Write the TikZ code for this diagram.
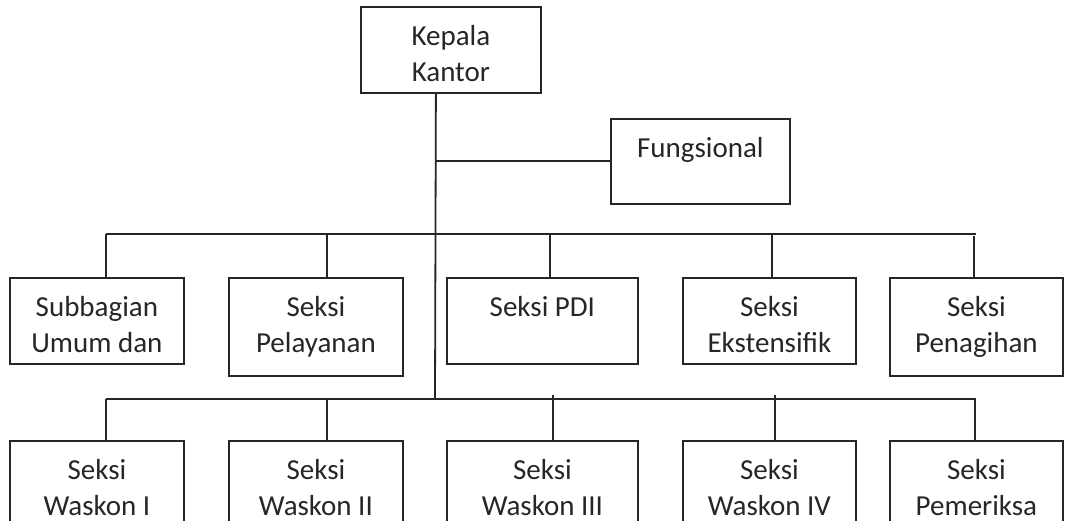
\documentclass[tikz,border=0pt]{standalone}
\usepackage{fontspec}
\setmainfont{Carlito}
\usetikzlibrary{calc}
\begin{document}
\begin{tikzpicture}[x=1pt,y=-1pt,
  ln/.style={line width=1.8pt, draw=black!85},
  orgbox/.style={ln, rectangle, inner sep=0pt, anchor=north west},
  lbl/.style={anchor=north, inner sep=0pt, align=center,
    font=\fontsize{29}{36}\selectfont, text=black!85}]
\useasboundingbox (0,0) rectangle (1080,521);
\clip (0,0) rectangle (1080,521);
% top boxes
\node[orgbox, minimum width=180pt, minimum height=86pt] (kk) at (360,6) {};
\node[lbl] (kkt) at ($(kk.north)+(0,14)$) {\rule{0pt}{25pt}Kepala\\Kantor};
\node[orgbox, minimum width=179pt, minimum height=85pt] (fu) at (610,118) {};
\node[lbl] (fut) at ($(fu.north)+(0,14)$) {\rule{0pt}{25pt}Fungsional};
% row 1
\node[orgbox, minimum width=174pt, minimum height=86pt] (sa) at (9,277) {};
\node[orgbox, minimum width=174pt, minimum height=98pt] (sb) at (228,277) {};
\node[orgbox, minimum width=191pt, minimum height=86pt] (sc) at (446,277) {};
\node[orgbox, minimum width=173pt, minimum height=86pt] (sd) at (682,277) {};
\node[orgbox, minimum width=173pt, minimum height=98pt] (se) at (889,277) {};
\node[lbl] (sat) at ($(sa.north)+(0,14)$) {\rule{0pt}{25pt}Subbagian\\Umum dan};
\node[lbl] (sbt) at ($(sb.north)+(0,14)$) {\rule{0pt}{25pt}Seksi\\Pelayanan};
\node[lbl] (sct) at ($(sc.north)+(0,14)$) {\rule{0pt}{25pt}Seksi PDI};
\node[lbl] (sdt) at ($(sd.north)+(0,14)$) {\rule{0pt}{25pt}Seksi\\Ekstensifik};
\node[lbl] (set) at ($(se.north)+(0,14)$) {\rule{0pt}{25pt}Seksi\\Penagihan};
% row 2
\node[orgbox, minimum width=174pt, minimum height=120pt] (wa) at (9,440) {};
\node[orgbox, minimum width=174pt, minimum height=120pt] (wb) at (228,440) {};
\node[orgbox, minimum width=191pt, minimum height=120pt] (wc) at (446,440) {};
\node[orgbox, minimum width=173pt, minimum height=120pt] (wd) at (682,440) {};
\node[orgbox, minimum width=173pt, minimum height=120pt] (we) at (889,440) {};
\node[lbl] (wat) at ($(wa.north)+(0,14)$) {\rule{0pt}{25pt}Seksi\\Waskon I};
\node[lbl] (wbt) at ($(wb.north)+(0,14)$) {\rule{0pt}{25pt}Seksi\\Waskon II};
\node[lbl] (wct) at ($(wc.north)+(0,14)$) {\rule{0pt}{25pt}Seksi\\Waskon III};
\node[lbl] (wdt) at ($(wd.north)+(0,14)$) {\rule{0pt}{25pt}Seksi\\Waskon IV};
\node[lbl] (wet) at ($(we.north)+(0,14)$) {\rule{0pt}{25pt}Seksi\\Pemeriksa};
% trunk and Fungsional branch
\coordinate (trunkTop) at ($(kk.south)+(-15,0)$);
\coordinate (trunkBot) at (435,399);
\coordinate (fj) at (trunkTop |- fu.west);
\draw[ln] (trunkTop) -- (trunkBot);
\draw[ln] (fj) -- (fu.west);
% bus 1
\coordinate (b1L) at (106,234);
\coordinate (b1R) at (976,234);
\coordinate (p1b) at (327,234);
\coordinate (p1c) at (550,234);
\coordinate (p1d) at (772,234);
\coordinate (p1e) at (974,236);
\draw[ln] (b1L) -- (b1R);
\draw[ln] (b1L) -- (b1L |- sa.north);
\draw[ln] (p1b) -- (p1b |- sb.north);
\draw[ln] (p1c) -- (p1c |- sc.north);
\draw[ln] (p1d) -- (p1d |- sd.north);
\draw[ln] (p1e) -- (p1e |- se.north);
% bus 2
\coordinate (b2L) at (106,399);
\coordinate (b2R) at (976,399);
\coordinate (p2b) at (327,399);
\coordinate (p2c) at (553,395);
\coordinate (p2d) at (775,395);
\coordinate (p2e) at (975,399);
\draw[ln] (b2L) -- (b2R);
\draw[ln] (b2L) -- (b2L |- wa.north);
\draw[ln] (p2b) -- (p2b |- wb.north);
\draw[ln] (p2c) -- (p2c |- wc.north);
\draw[ln] (p2d) -- (p2d |- wd.north);
\draw[ln] (p2e) -- (p2e |- we.north);
\end{tikzpicture}
\end{document}
